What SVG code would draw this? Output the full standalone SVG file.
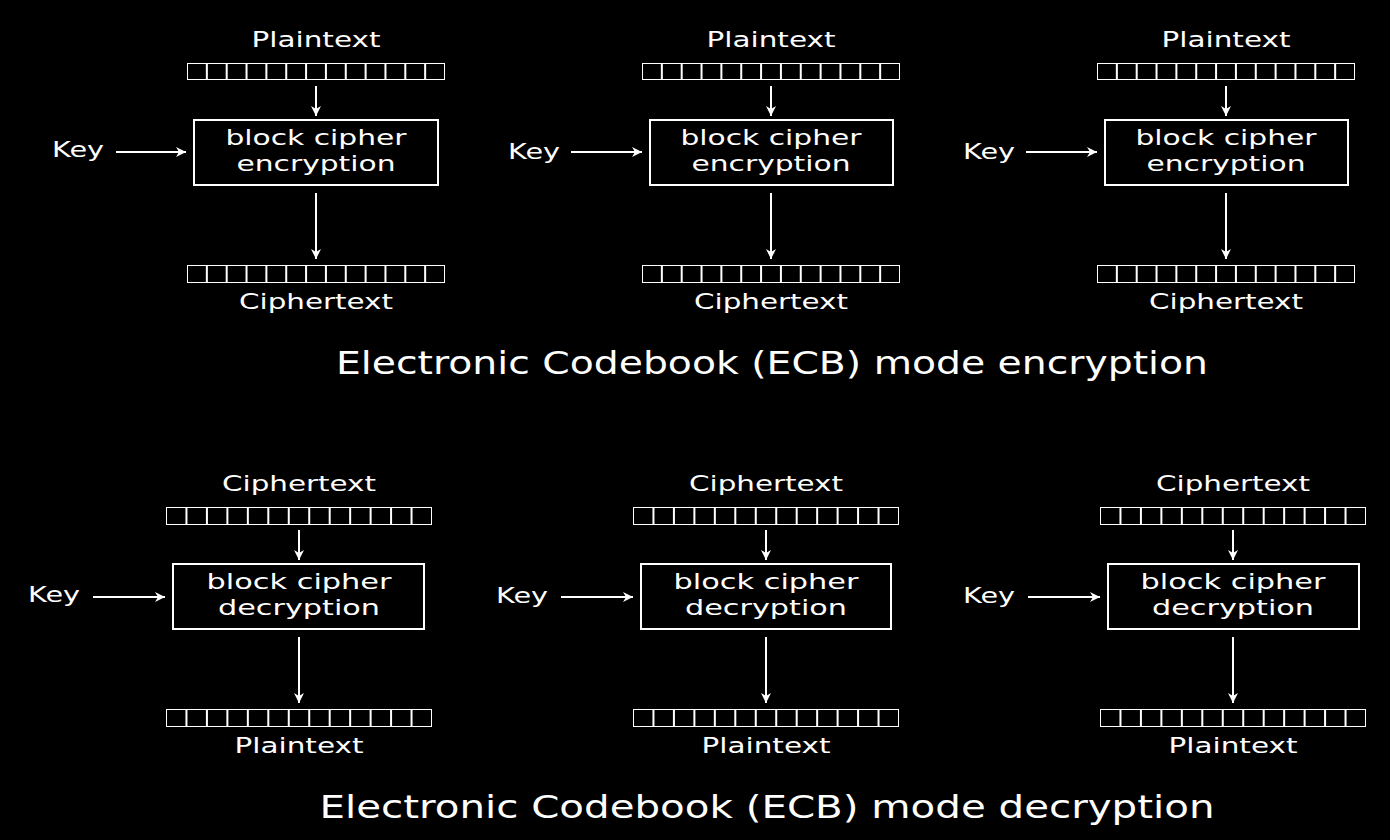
<svg xmlns="http://www.w3.org/2000/svg" width="1390" height="840" viewBox="0 0 1390 840">
<style>
text{font-family:"DejaVu Sans",sans-serif;fill:#fff;font-size:22px}
.t{font-size:32px;text-anchor:middle}
.c{text-anchor:middle}
.b{fill:none;stroke:#fff;stroke-width:2}
.a{stroke:#fff;stroke-width:2;fill:none;marker-end:url(#ah)}
</style>
<defs>
<marker id="ah" viewBox="0 0 10 10" refX="10" refY="5" markerWidth="14" markerHeight="10" markerUnits="userSpaceOnUse" orient="auto"><path d="M0,0L10,5L0,10L3,5z" fill="#fff"/></marker>
<symbol id="s" viewBox="0 0 130 10" preserveAspectRatio="none">
<path vector-effect="non-scaling-stroke" fill="none" stroke="#fff" stroke-width="2" d="M0,0H130V10H0Z M10,0V10M20,0V10M30,0V10M40,0V10M50,0V10M60,0V10M70,0V10M80,0V10M90,0V10M100,0V10M110,0V10M120,0V10"/>
</symbol>
</defs>
<rect width="1390" height="840" fill="#000"/>
<g id="enc1"><text class="c" x="316" y="47" textLength="129" lengthAdjust="spacingAndGlyphs">Plaintext</text><use href="#s" x="187" y="63" width="258" height="17"/><rect class="b" x="194" y="120" width="244" height="65"/><text class="c" x="316" y="145" textLength="181" lengthAdjust="spacingAndGlyphs">block cipher</text><text class="c" x="316" y="171" textLength="159" lengthAdjust="spacingAndGlyphs">encryption</text><text x="52" y="157" textLength="52" lengthAdjust="spacingAndGlyphs">Key</text><use href="#s" x="187" y="265" width="258" height="18"/><text class="c" x="316" y="309" textLength="154" lengthAdjust="spacingAndGlyphs">Ciphertext</text></g>
<g id="enc2"><text class="c" x="771" y="47" textLength="129" lengthAdjust="spacingAndGlyphs">Plaintext</text><use href="#s" x="642" y="63" width="258" height="17"/><rect class="b" x="650" y="120" width="243" height="65"/><text class="c" x="771" y="145" textLength="181" lengthAdjust="spacingAndGlyphs">block cipher</text><text class="c" x="771" y="171" textLength="159" lengthAdjust="spacingAndGlyphs">encryption</text><text x="508" y="159" textLength="52" lengthAdjust="spacingAndGlyphs">Key</text><use href="#s" x="642" y="265" width="258" height="18"/><text class="c" x="771" y="309" textLength="154" lengthAdjust="spacingAndGlyphs">Ciphertext</text></g>
<g id="enc3"><text class="c" x="1226" y="47" textLength="129" lengthAdjust="spacingAndGlyphs">Plaintext</text><use href="#s" x="1097" y="63" width="258" height="17"/><rect class="b" x="1105" y="120" width="243" height="65"/><text class="c" x="1226" y="145" textLength="181" lengthAdjust="spacingAndGlyphs">block cipher</text><text class="c" x="1226" y="171" textLength="159" lengthAdjust="spacingAndGlyphs">encryption</text><text x="963" y="159" textLength="52" lengthAdjust="spacingAndGlyphs">Key</text><use href="#s" x="1097" y="265" width="258" height="18"/><text class="c" x="1226" y="309" textLength="154" lengthAdjust="spacingAndGlyphs">Ciphertext</text></g>
<g id="dec1"><text class="c" x="299" y="491" textLength="154" lengthAdjust="spacingAndGlyphs">Ciphertext</text><use href="#s" x="166" y="507" width="266" height="18"/><rect class="b" x="173" y="564" width="251" height="65"/><text class="c" x="299" y="589" textLength="185" lengthAdjust="spacingAndGlyphs">block cipher</text><text class="c" x="299" y="615" textLength="162" lengthAdjust="spacingAndGlyphs">decryption</text><text x="28" y="602" textLength="52" lengthAdjust="spacingAndGlyphs">Key</text><use href="#s" x="166" y="709" width="266" height="18"/><text class="c" x="299" y="753" textLength="129" lengthAdjust="spacingAndGlyphs">Plaintext</text></g>
<g id="dec2"><text class="c" x="766" y="491" textLength="154" lengthAdjust="spacingAndGlyphs">Ciphertext</text><use href="#s" x="633" y="507" width="266" height="18"/><rect class="b" x="641" y="564" width="250" height="65"/><text class="c" x="766" y="589" textLength="185" lengthAdjust="spacingAndGlyphs">block cipher</text><text class="c" x="766" y="615" textLength="162" lengthAdjust="spacingAndGlyphs">decryption</text><text x="496" y="603" textLength="52" lengthAdjust="spacingAndGlyphs">Key</text><use href="#s" x="633" y="709" width="266" height="18"/><text class="c" x="766" y="753" textLength="129" lengthAdjust="spacingAndGlyphs">Plaintext</text></g>
<g id="dec3"><text class="c" x="1233" y="491" textLength="154" lengthAdjust="spacingAndGlyphs">Ciphertext</text><use href="#s" x="1100" y="507" width="266" height="18"/><rect class="b" x="1108" y="564" width="251" height="65"/><text class="c" x="1233" y="589" textLength="185" lengthAdjust="spacingAndGlyphs">block cipher</text><text class="c" x="1233" y="615" textLength="162" lengthAdjust="spacingAndGlyphs">decryption</text><text x="963" y="603" textLength="52" lengthAdjust="spacingAndGlyphs">Key</text><use href="#s" x="1100" y="709" width="266" height="18"/><text class="c" x="1233" y="753" textLength="129" lengthAdjust="spacingAndGlyphs">Plaintext</text></g>
<g id="titles"><text class="t" x="772" y="374" textLength="872" lengthAdjust="spacingAndGlyphs">Electronic Codebook (ECB) mode encryption</text><text class="t" x="767" y="818" textLength="895" lengthAdjust="spacingAndGlyphs">Electronic Codebook (ECB) mode decryption</text></g>
<g id="connectors">
<path class="a" d="M316,86V116"/><path class="a" d="M316,193V259"/><path class="a" d="M116,152H186"/>
<path class="a" d="M771,86V116"/><path class="a" d="M771,193V259"/><path class="a" d="M571,152H642"/>
<path class="a" d="M1226,86V116"/><path class="a" d="M1226,193V259"/><path class="a" d="M1026,152H1097"/>
<path class="a" d="M299,530V560"/><path class="a" d="M299,637V703"/><path class="a" d="M93,597H165"/>
<path class="a" d="M766,530V560"/><path class="a" d="M766,637V703"/><path class="a" d="M561,597H633"/>
<path class="a" d="M1233,530V560"/><path class="a" d="M1233,637V703"/><path class="a" d="M1028,597H1100"/>
</g>
</svg>
